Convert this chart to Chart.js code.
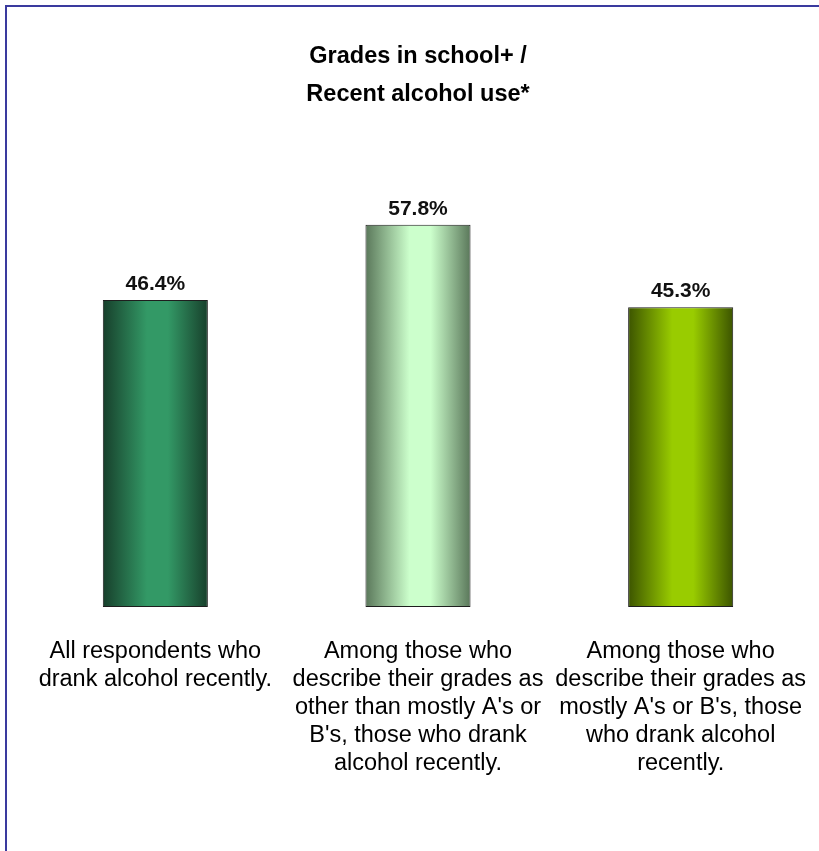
<!DOCTYPE html>
<html lang="en">
<head>
    <meta charset="UTF-8">
    <title>Grades in school / Recent alcohol use</title>
    <script src="https://cdn.jsdelivr.net/npm/chart.js"></script>
    <style>
        body { margin: 0; background: #fff; overflow: hidden; }
        #wrap { position: absolute; left: 0; top: 0; width: 819px; height: 851px; }
        #frame {
            position: absolute; left: 5px; top: 5px; width: 900px; height: 900px;
            border-left: 2px solid #3a3a9e; border-top: 2px solid #3a3a9e;
            pointer-events: none;
        }
    </style>
</head>
<body>
    <div id="wrap">
        <canvas id="gradesChart" width="819" height="851"></canvas>
        <div id="frame"></div>
    </div>

    <script>
        // chart data
        const categories = [
            ["All respondents who", "drank alcohol recently."],
            ["Among those who", "describe their grades as", "other than mostly A's or", "B's, those who drank", "alcohol recently."],
            ["Among those who", "describe their grades as", "mostly A's or B's, those", "who drank alcohol", "recently."]
        ];
        const percentRecent = [46.4, 57.8, 45.3];
        const titleLines = ["Grades in school+ /", "Recent alcohol use*"];

        // bar shading: dark edges, light centre
        const edgeColors = ['#173f2b', '#5a775a', '#3c5400'];
        const centerColors = ['#339966', '#ccffcc', '#99cc00'];

        const FONT = 'Arial, "Liberation Sans", sans-serif';
        const BAR_PCT = 0.4;

        function barGradient(ctx) {
            const chart = ctx.chart;
            const area = chart.chartArea;
            const i = ctx.dataIndex;
            if (!area || ctx.type !== 'data' || !chart.scales.x) return centerColors[i];
            const cx = chart.scales.x.getPixelForValue(i);
            const w = (area.right - area.left) / categories.length * BAR_PCT;
            const g = chart.ctx.createLinearGradient(cx - w / 2, 0, cx + w / 2, 0);
            g.addColorStop(0, edgeColors[i]);
            g.addColorStop(0.42, centerColors[i]);
            g.addColorStop(0.62, centerColors[i]);
            g.addColorStop(1, edgeColors[i]);
            return g;
        }

        // value labels above bars
        const valueLabels = {
            id: 'valueLabels',
            afterDatasetsDraw(chart) {
                const c = chart.ctx;
                const meta = chart.getDatasetMeta(0);
                c.save();
                c.font = 'bold 21px ' + FONT;
                c.fillStyle = '#111';
                c.textAlign = 'center';
                c.textBaseline = 'alphabetic';
                meta.data.forEach((bar, i) => {
                    c.fillText(percentRecent[i].toFixed(1) + '%', bar.x, bar.y - 10);
                });
                c.restore();
            }
        };

        new Chart(document.getElementById('gradesChart'), {
            type: 'bar',
            data: {
                labels: categories,
                datasets: [{
                    data: percentRecent,
                    backgroundColor: barGradient,
                    borderColor: '#1e1e1e',
                    borderWidth: 1,
                    borderSkipped: false,
                    barPercentage: BAR_PCT,
                    categoryPercentage: 1
                }]
            },
            options: {
                responsive: false,
                animation: false,
                layout: { padding: { left: 24, right: 7, top: 0, bottom: 73 } },
                plugins: {
                    legend: { display: false },
                    tooltip: { enabled: false },
                    title: {
                        display: true,
                        text: titleLines,
                        color: '#000',
                        font: { family: FONT, size: 23.5, weight: 'bold', lineHeight: '38px' },
                        padding: { top: 38, bottom: 30 }
                    }
                },
                scales: {
                    x: {
                        grid: { display: false, drawTicks: true, tickLength: 31 },
                        border: { display: false },
                        ticks: {
                            color: '#000',
                            padding: 0,
                            autoSkip: false,
                            maxRotation: 0,
                            minRotation: 0,
                            font: { family: FONT, size: 23.5, lineHeight: '28px' }
                        }
                    },
                    y: {
                        display: false,
                        min: 0,
                        max: 70
                    }
                }
            },
            plugins: [valueLabels]
        });
    </script>
</body>
</html>
